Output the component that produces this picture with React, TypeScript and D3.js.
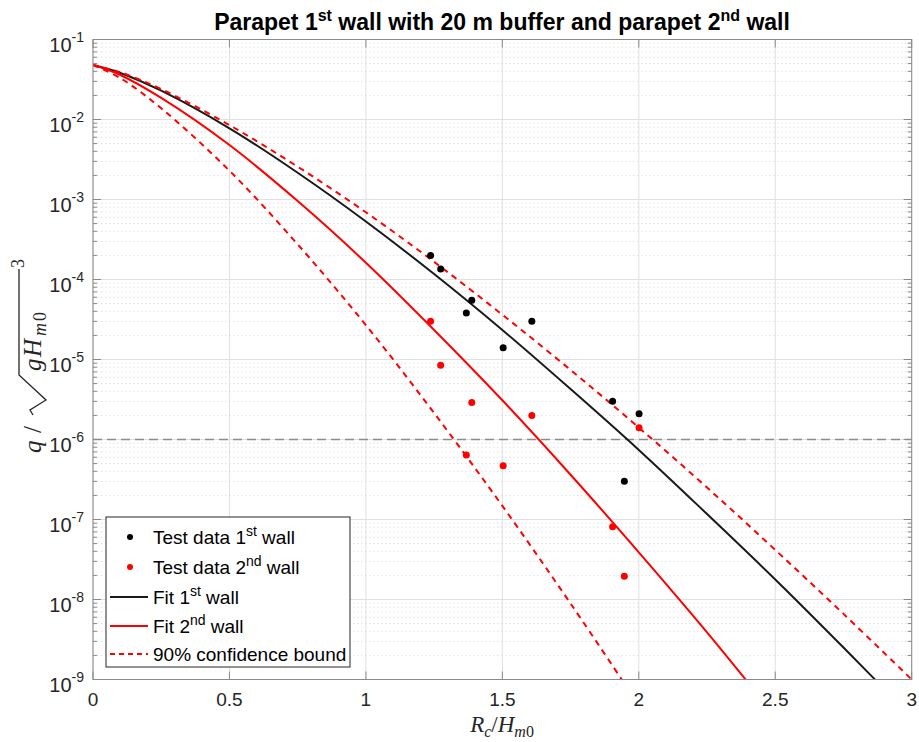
import * as d3 from "d3";

// relative crest freeboard of the tests
const rcTest = [1.237, 1.274, 1.368, 1.388, 1.503, 1.608, 1.904, 1.947, 2.001];
// measured dimensionless overtopping
const qWall1 = [2.0e-4, 1.35e-4, 3.8e-5, 5.5e-5, 1.4e-5, 3.0e-5, 3.0e-6, 3.0e-7, 2.1e-6];
const qWall2 = [3.0e-5, 8.5e-6, 6.4e-7, 2.9e-6, 4.7e-7, 2.0e-6, 8.1e-8, 1.95e-8, 1.4e-6];

// fitted curves
const fitRc = [0, 0.1, 0.25, 0.5, 0.75, 1, 1.25, 1.5, 1.75, 2, 2.25, 2.5, 2.75, 3];
const fitWall1 = [0.0479, 0.0382, 0.0229, 7.76e-3, 2.16e-3, 5.31e-4, 1.17e-4, 2.34e-5, 4.27e-6, 7.41e-7, 1.17e-7, 1.78e-8, 2.51e-9, 3.39e-10];
const upperBound = [0.0479, 0.0389, 0.024, 8.51e-3, 2.57e-3, 6.92e-4, 1.66e-4, 3.63e-5, 7.41e-6, 1.41e-6, 2.51e-7, 4.17e-8, 6.61e-9, 1.0e-9];
const fitWall2 = [0.0479, 0.036, 0.0186, 4.79e-3, 9.55e-4, 1.62e-4, 2.34e-5, 3.09e-6, 3.63e-7, 3.89e-8, 3.89e-9, 3.47e-10];
const lowerBound = [0.0479, 0.0329, 0.0138, 2.29e-3, 2.75e-4, 2.69e-5, 2.14e-6, 1.48e-7, 8.91e-9, 4.79e-10];

const xTicks = [0, 0.5, 1, 1.5, 2, 2.5, 3];
const xTickLabels = ["0", "0.5", "1", "1.5", "2", "2.5", "3"];
const yExponents = [-1, -2, -3, -4, -5, -6, -7, -8, -9];
const threshold = 1e-6;

const W = 919;
const H = 742;
const left = 93;
const right = 911.7;
const top = 39.5;
const bottom = 679.5;

const sans = "'Liberation Sans', Arial, sans-serif";
const serif = "'Liberation Serif', 'DejaVu Serif', serif";
const axisColor = "#8a8a8a";

export default function App() {
  const x = d3.scaleLinear().domain([0, 3]).range([left, right]);
  const y = d3.scaleLog().domain([1e-9, 1e-1]).range([bottom, top]);

  const line = d3
    .line<[number, number]>()
    .x((d) => x(d[0]))
    .y((d) => y(d[1]))
    .curve(d3.curveCatmullRom.alpha(0.5));

  const pts = (vals: number[]) => vals.map((v, i) => [fitRc[i], v] as [number, number]);

  // minor log ticks
  const minor: number[] = [];
  for (let e = -9; e < -1; e++) {
    for (let k = 2; k <= 9; k++) minor.push(k * Math.pow(10, e));
  }

  return (
    <svg width={W} height={H} style={{ position: "absolute", left: 0, top: 0, background: "#fff" }}>
      <defs>
        <clipPath id="plot">
          <rect x={left} y={top} width={right - left} height={bottom - top} />
        </clipPath>
      </defs>

      {/* grid */}
      <g>
        {minor.map((v) => (
          <line key={"mg" + v} x1={left} x2={right} y1={y(v)} y2={y(v)} stroke="#d9d9d9" strokeWidth={0.8} strokeDasharray="1.5,2.5" />
        ))}
        {yExponents.map((e) => (
          <line key={"yg" + e} x1={left} x2={right} y1={y(Math.pow(10, e))} y2={y(Math.pow(10, e))} stroke="#e0e0e0" strokeWidth={1} />
        ))}
        {xTicks.map((t) => (
          <line key={"xg" + t} x1={x(t)} x2={x(t)} y1={top} y2={bottom} stroke="#e0e0e0" strokeWidth={1} />
        ))}
      </g>

      {/* threshold line */}
      <line x1={left} x2={right} y1={y(threshold)} y2={y(threshold)} stroke="#8c8c8c" strokeWidth={1.5} strokeDasharray="9,5" />

      <g clipPath="url(#plot)" fill="none" strokeWidth={2}>
        <path d={line(pts(fitWall1)) || ""} stroke="#1a1a1a" />
        <path d={line(pts(upperBound)) || ""} stroke="#ff0000" strokeDasharray="6,5" />
        <path d={line(pts(fitWall2)) || ""} stroke="#ff0000" />
        <path d={line(pts(lowerBound)) || ""} stroke="#ff0000" strokeDasharray="6,5" />
      </g>

      {/* test data */}
      {rcTest.map((r, i) => (
        <circle key={"b" + i} cx={x(r)} cy={y(qWall1[i])} r={3.5} fill="#000" />
      ))}
      {rcTest.map((r, i) => (
        <circle key={"r" + i} cx={x(r)} cy={y(qWall2[i])} r={3.5} fill="#ff0000" />
      ))}

      {/* axes box and ticks */}
      <rect x={left} y={top} width={right - left} height={bottom - top} fill="none" stroke={axisColor} strokeWidth={1} />
      {xTicks.map((t) => (
        <g key={"xt" + t} stroke={axisColor}>
          <line x1={x(t)} x2={x(t)} y1={bottom} y2={bottom - 8} />
          <line x1={x(t)} x2={x(t)} y1={top} y2={top + 8} />
        </g>
      ))}
      {yExponents.map((e) => (
        <g key={"yt" + e} stroke={axisColor}>
          <line x1={left} x2={left + 8} y1={y(Math.pow(10, e))} y2={y(Math.pow(10, e))} />
          <line x1={right} x2={right - 8} y1={y(Math.pow(10, e))} y2={y(Math.pow(10, e))} />
        </g>
      ))}
      {minor.map((v) => (
        <g key={"ym" + v} stroke={axisColor}>
          <line x1={left} x2={left + 4} y1={y(v)} y2={y(v)} />
          <line x1={right} x2={right - 4} y1={y(v)} y2={y(v)} />
        </g>
      ))}

      {/* tick labels */}
      <g fontFamily={sans} fill="#262626">
        {xTicks.map((t, i) => (
          <text key={"xl" + t} x={x(t)} y={bottom + 26} fontSize={19} textAnchor="middle">
            {xTickLabels[i]}
          </text>
        ))}
        {yExponents.map((e) => (
          <text key={"yl" + e} x={left - 9} y={y(Math.pow(10, e)) + 12.5} fontSize={20} textAnchor="end">
            10
            <tspan fontSize={14} dy={-10}>
              {String(e)}
            </tspan>
          </text>
        ))}
      </g>

      {/* title */}
      <text x={502} y={30} fontFamily={sans} fontSize={23} fontWeight="bold" textAnchor="middle" fill="#000">
        Parapet 1<tspan fontSize={16} dy={-9}>st</tspan>
        <tspan dy={9}> wall with 20 m buffer and parapet 2</tspan>
        <tspan fontSize={16} dy={-9}>nd</tspan>
        <tspan dy={9}> wall</tspan>
      </text>

      {/* x label */}
      <text x={502} y={732} fontFamily={serif} fontSize={23} textAnchor="middle" fill="#262626">
        <tspan fontStyle="italic">R</tspan>
        <tspan fontStyle="italic" fontSize={16} dy={5}>c</tspan>
        <tspan dy={-5}>/</tspan>
        <tspan fontStyle="italic">H</tspan>
        <tspan fontStyle="italic" fontSize={16} dy={5}>m</tspan>
        <tspan fontSize={16}>0</tspan>
      </text>

      {/* y label */}
      <g transform="translate(41,365) rotate(-90)" fontFamily={serif} fill="#262626">
        <text x={-88} y={0} fontSize={25} fontStyle="italic">q</text>
        <text x={-68} y={0} fontSize={25}>/</text>
        <path d="M -50 -8 L -45 -11 L -35 5 L -10 -22 L 96 -22" fill="none" stroke="#262626" strokeWidth={1.3} />
        <text x={-6} y={0} fontSize={25} fontStyle="italic">g</text>
        <text x={8} y={0} fontSize={25} fontStyle="italic">H</text>
        <text x={29} y={5} fontSize={18} fontStyle="italic">m</text>
        <text x={44} y={5} fontSize={18}>0</text>
        <text x={97} y={-17} fontSize={18}>3</text>
      </g>

      {/* legend */}
      <g>
        <rect x={106} y={517} width={244} height={150} fill="#fff" stroke="#262626" strokeWidth={1} />
        <circle cx={130} cy={537} r={3} fill="#000" />
        <circle cx={130} cy={567} r={3} fill="#ff0000" />
        <line x1={110} x2={148} y1={597} y2={597} stroke="#1a1a1a" strokeWidth={2} />
        <line x1={110} x2={148} y1={626} y2={626} stroke="#ff0000" strokeWidth={2} />
        <line x1={110} x2={148} y1={654} y2={654} stroke="#ff0000" strokeWidth={2} strokeDasharray="5,4" />
        <g fontFamily={sans} fontSize={19} fill="#000">
          <text x={153} y={544}>
            Test data 1<tspan fontSize={14} dy={-8}>st</tspan>
            <tspan dy={8}> wall</tspan>
          </text>
          <text x={153} y={574}>
            Test data 2<tspan fontSize={14} dy={-8}>nd</tspan>
            <tspan dy={8}> wall</tspan>
          </text>
          <text x={153} y={604}>
            Fit 1<tspan fontSize={14} dy={-8}>st</tspan>
            <tspan dy={8}> wall</tspan>
          </text>
          <text x={153} y={633}>
            Fit 2<tspan fontSize={14} dy={-8}>nd</tspan>
            <tspan dy={8}> wall</tspan>
          </text>
          <text x={153} y={661}>90% confidence bound</text>
        </g>
      </g>
    </svg>
  );
}
